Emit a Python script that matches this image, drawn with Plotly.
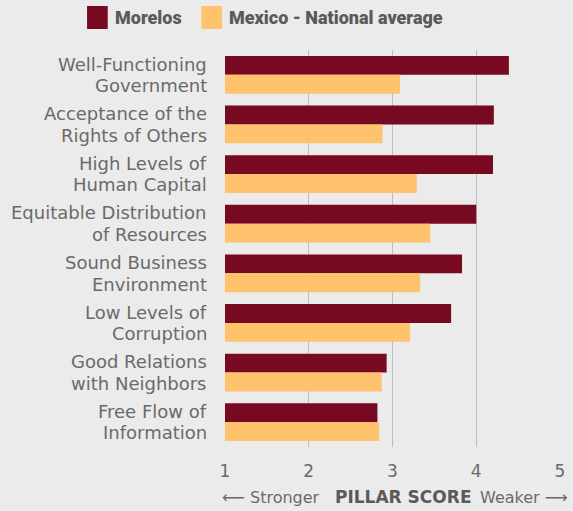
import plotly.graph_objects as go

# Pillar scores (1 = strongest, 5 = weakest)
pillars = [
    "Well-Functioning<br>Government",
    "Acceptance of the<br>Rights of Others",
    "High Levels of<br>Human Capital",
    "Equitable Distribution<br>of Resources",
    "Sound Business<br>Environment",
    "Low Levels of<br>Corruption",
    "Good Relations<br>with Neighbors",
    "Free Flow of<br>Information",
]
morelos = [4.39, 4.21, 4.20, 4.00, 3.83, 3.70, 2.93, 2.82]
national = [3.09, 2.88, 3.29, 3.45, 3.33, 3.21, 2.87, 2.84]
x_ticks = [1, 2, 3, 4, 5]

series_names = ["Morelos", "Mexico - National average"]
series_colors = ["#770A20", "#FFC36E"]

BG = "#EBEBEB"
TEXT = "#5A5A5A"
LIGHT = dict(family="DejaVu Sans, sans-serif", color="#6A6A6A")
LABEL_FONT = dict(LIGHT, size=18)
TICK_FONT = dict(LIGHT, size=17)
CAPTION_FONT = dict(LIGHT, size=16)

# plot area in pixels (used to place legend and caption in paper coords)
W, H = 573, 511
L, R, T, B = 225, 8, 50, 64
PW, PH = W - L - R, H - T - B


def px_x(x):
    return (x - L) / PW


def px_y(y):
    return (H - B - y) / PH


fig = go.Figure()
for name, vals, color in zip(series_names, [morelos, national], series_colors):
    # bars start at the scale origin of 1
    fig.add_trace(go.Bar(y=pillars, x=[v - 1 for v in vals], base=1,
                         orientation="h", name=name, marker_color=color,
                         marker_line_width=0,
                         hovertext=[str(v) for v in vals]))

fig.update_layout(
    width=W, height=H,
    paper_bgcolor=BG, plot_bgcolor=BG,
    margin=dict(l=L, r=R, t=T, b=B),
    barmode="group", bargap=0.24, bargroupgap=0,
    showlegend=False,
    font=dict(family="DejaVu Sans, sans-serif", color=TEXT, size=17),
)
fig.update_xaxes(
    range=[1, 5], tickvals=x_ticks, ticktext=[str(t) for t in x_ticks],
    showgrid=True, gridcolor="#BDBDBD", gridwidth=1.2,
    zeroline=False, showline=False, ticks="",
    tickfont=TICK_FONT, ticklabelstandoff=12,
)
fig.update_yaxes(
    autorange="reversed", showgrid=False, showline=False, ticks="",
    showticklabels=False,
)

# Category labels, one annotation per line
LINE_H = 21.5
for cat in pillars:
    lines = cat.split("<br>")
    n = len(lines)
    for i, line in enumerate(lines):
        fig.add_annotation(xref="paper", yref="y", x=0, y=cat,
                           text=line, showarrow=False,
                           xanchor="right", yanchor="middle",
                           xshift=-17, yshift=(n - 1) / 2 * LINE_H - i * LINE_H,
                           borderpad=0, font=LABEL_FONT)

# Legend swatches and labels
legend_items = [(85, series_names[0], series_colors[0]),
                (201, series_names[1], series_colors[1])]
for x0, name, color in legend_items:
    fig.add_shape(type="rect", xref="paper", yref="paper",
                  x0=px_x(x0), x1=px_x(x0 + 21),
                  y0=px_y(29), y1=px_y(6),
                  fillcolor=color, line_width=0)
    fig.add_annotation(xref="paper", yref="paper",
                       x=px_x(x0 + 26), y=px_y(18),
                       text=name, showarrow=False,
                       xanchor="left", yanchor="middle",
                       font=dict(family="Roboto, sans-serif", size=18,
                                 color=TEXT, weight=900))

# Axis caption
cap_y = px_y(497)
fig.add_annotation(xref="paper", yref="paper", x=px_x(323), y=cap_y,
                   text="\u27f5 Stronger", showarrow=False,
                   xanchor="right", yanchor="middle", font=CAPTION_FONT)
fig.add_annotation(xref="paper", yref="paper", x=px_x(406), y=cap_y,
                   text="PILLAR SCORE", showarrow=False,
                   xanchor="center", yanchor="middle",
                   font=dict(family="DejaVu Sans, sans-serif", size=17,
                             color=TEXT, weight="bold"))
fig.add_annotation(xref="paper", yref="paper", x=px_x(482), y=cap_y,
                   text="Weaker \u27f6", showarrow=False,
                   xanchor="left", yanchor="middle", font=CAPTION_FONT)

fig.write_html("out.html")
